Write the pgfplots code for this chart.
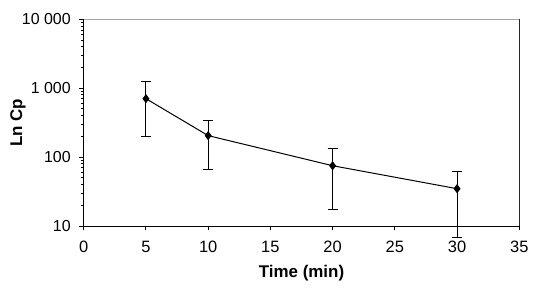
\documentclass[border=0pt]{standalone}
\usepackage{fontspec}
\setmainfont{Liberation Sans}
\usepackage{pgfplots}
\pgfplotsset{compat=1.18}
\begin{document}
\begin{tikzpicture}
\path[use as bounding box] (0,0) rectangle (534bp,290bp);
\begin{axis}[
  at={(83.7bp,64bp)}, anchor=south west,
  scale only axis, width=435.6bp, height=206.7bp,
  xmin=0, xmax=35, ymin=10, ymax=10000, ymode=log,
  clip=false,
  axis x line*=bottom, axis y line*=left,
  axis line style={black, line width=0.9bp},
  xtick={0,5,10,15,20,25,30,35},
  ytick={10,100,1000,10000},
  yticklabels={10,100,1 000,10 000},
  minor ytick={},
  tick align=outside, major tick length=4.5bp,
  tick style={black, line width=0.9bp},
  /pgf/number format/assume math mode=true,
  xticklabel style={font=\fontsize{16.5}{19}\selectfont, anchor=center, yshift=-16bp},
  yticklabel style={font=\fontsize{16}{19}\selectfont, anchor=east, xshift=-5bp},
  every axis x label/.style={at={(rel axis cs:0.5,0)}, anchor=center, yshift=-47bp, font=\fontsize{17}{20}\selectfont\bfseries},
  every axis y label/.style={at={(rel axis cs:0,0.5)}, anchor=center, rotate=90, yshift=65.7bp, font=\fontsize{17}{20}\selectfont\bfseries},
  xlabel={Time (min)},
  ylabel={Ln Cp},
]
\draw[gray!70, line width=0.9bp] (rel axis cs:0,1) -- (rel axis cs:1,1);
\draw[black!85, line width=0.9bp] (rel axis cs:1,1) -- (rel axis cs:1,0);
\addplot[black, line width=1bp, mark=diamond*, mark size=3.8bp,
  error bars/.cd, y dir=both, y explicit,
  error bar style={line width=1bp},
  error mark options={rotate=90, mark size=5bp, line width=1bp}]
  coordinates {
  (5,705)  += (0,554) -= (0,505)
  (10,205) += (0,140) -= (0,138)
  (20,75)  += (0,59)  -= (0,57.5)
  (30,34.8) += (0,28) -= (0,27.9)
  };
\end{axis}
\end{tikzpicture}
\end{document}
